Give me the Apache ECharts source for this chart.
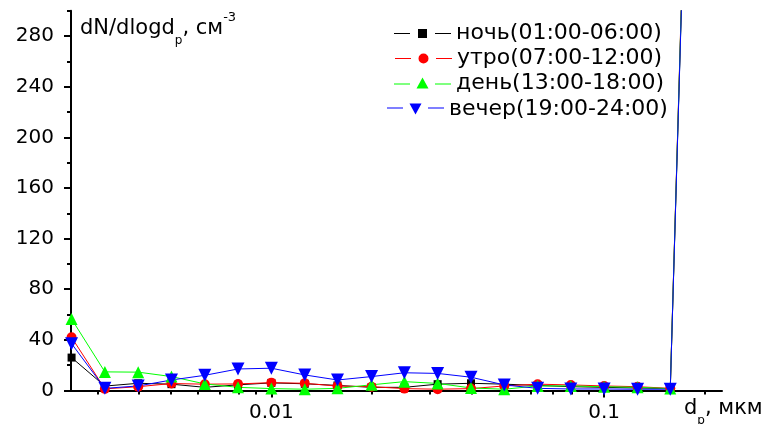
<!DOCTYPE html>
<html>
<head>
<meta charset="utf-8">
<title>dN/dlogdp</title>
<script src="https://cdn.jsdelivr.net/npm/echarts@6/dist/echarts.min.js"></script>
<style>
    html, body { margin: 0; padding: 0; background: #fff; }
    #main { width: 771px; height: 424px; }
</style>
</head>
<body>
<div id="main"></div>
<script>
// диаметр частиц, мкм
var diam = [0.00251, 0.00316, 0.00398, 0.00501, 0.00631, 0.00794, 0.01, 0.0126, 0.0158, 0.02,
    0.0251, 0.0316, 0.0398, 0.0501, 0.0631, 0.0794, 0.1, 0.126, 0.158, 0.2];
// dN/dlogdp по периодам суток
var night = [26, 3.5, 5.7, 5, 2.5, 4.5, 6, 5.3, 4, 2.5, 2.5, 5, 5.7, 5, 4, 3, 2.5, 2, 1.5, 925];
var morning = [42, 1.3, 3, 5.5, 5, 5.2, 6.2, 5.7, 3.5, 3, 1.5, 1, 1.5, 3.6, 5, 4.4, 3.6, 3, 1.7, 935];
var day = [56.5, 14.7, 14.5, 11, 5.2, 2.5, 1.5, 1, 1.7, 4.5, 7, 5.6, 2, 1, 3.6, 3.6, 3, 2.5, 1.5, 930];
var evening = [37, 1.7, 3.6, 8.3, 12, 17, 17.6, 12.3, 8.3, 11, 14, 13.5, 10.5, 4.4, 1.7, 1.2, 1.2, 1, 1, 920];
var names = ['ночь(01:00-06:00)', 'утро(07:00-12:00)', 'день(13:00-18:00)', 'вечер(19:00-24:00)'];
// подписи и деления осей
var yMajor = [0, 40, 80, 120, 160, 200, 240, 280];
var yMinor = [20, 60, 100, 140, 180, 220, 260, 300];
var xMajor = [0.01, 0.1];
var xMinor = [0.003, 0.004, 0.005, 0.006, 0.007, 0.008, 0.009,
    0.02, 0.03, 0.04, 0.05, 0.06, 0.07, 0.08, 0.09, 0.2];

(function() {
    var font = 'DejaVu Sans';
    var chart = echarts.init(document.getElementById('main'));

    function pairs(vals) {
        return diam.map(function(d, i) {
            return [d, vals[i]];
        });
    }

    function lineSeries(name, vals, color, symbol, size, rotate) {
        return {
            name: name,
            type: 'line',
            data: pairs(vals),
            symbol: symbol,
            symbolSize: size,
            symbolRotate: rotate || 0,
            itemStyle: { color: color },
            lineStyle: { color: color, width: 1 },
            animation: false
        };
    }

    // значки легенды: линия - символ - линия
    var icons = [
        'path://M0,4L16,4L16,5L0,5Z M24,0L33,0L33,9L24,9Z M41,4L57,4L57,5L41,5Z',
        'path://M0,4.5L16,4.5L16,5.5L0,5.5Z M23.5,5A5,5 0 1,0 33.5,5A5,5 0 1,0 23.5,5Z M41,4.5L57,4.5L57,5.5L41,5.5Z',
        'path://M0,6L16,6L16,7L0,7Z M22.5,11L28.5,0L34.5,11Z M41,6L57,6L57,7L41,7Z',
        'path://M0,4L16,4L16,5L0,5Z M22.5,0L34.5,0L28.5,11Z M41,4L57,4L57,5L41,5Z'
    ];
    var iconH = [9, 10, 11, 11];
    var legLeft = [394, 395, 394, 387];
    var legMid = [33.5, 58.5, 83, 109];

    var legends = names.map(function(n, i) {
        return {
            data: [{ name: n, icon: icons[i] }],
            left: legLeft[i],
            top: legMid[i] - 11,
            padding: 0,
            itemWidth: 57,
            itemHeight: iconH[i],
            selectedMode: false,
            textStyle: { fontFamily: font, fontSize: 22, color: '#000', lineHeight: 22 }
        };
    });

    var option = {
        backgroundColor: '#fff',
        animation: false,
        grid: { left: 71, right: 49, top: 10.7, bottom: 33.5, containLabel: false },
        legend: legends,
        xAxis: [{
            type: 'log',
            logBase: 10,
            min: 0.0025,
            max: 0.226,
            position: 'bottom',
            axisLine: { onZero: false, lineStyle: { color: '#000', width: 2 } },
            axisTick: { show: true, customValues: xMajor, length: 7, lineStyle: { color: '#000', width: 2 } },
            axisLabel: {
                customValues: xMajor,
                margin: 12,
                fontFamily: font,
                fontSize: 20,
                color: '#000',
                formatter: function(v) {
                    return String(v);
                }
            },
            splitLine: { show: false }
        }, {
            type: 'log',
            logBase: 10,
            min: 0.0025,
            max: 0.226,
            position: 'bottom',
            axisLine: { show: false, onZero: false },
            axisTick: { show: true, customValues: xMinor, length: 4, lineStyle: { color: '#000', width: 2 } },
            axisLabel: { show: false },
            splitLine: { show: false }
        }],
        yAxis: [{
            type: 'value',
            min: 0,
            max: 300,
            position: 'left',
            axisLine: { show: true, onZero: false, lineStyle: { color: '#000', width: 2 } },
            axisTick: { show: true, customValues: yMajor, length: 7, lineStyle: { color: '#000', width: 2 } },
            axisLabel: {
                customValues: yMajor,
                margin: 17,
                fontFamily: font,
                fontSize: 20,
                color: '#000'
            },
            splitLine: { show: false }
        }, {
            type: 'value',
            min: 0,
            max: 300,
            position: 'left',
            axisLine: { show: false, onZero: false },
            axisTick: { show: true, customValues: yMinor, length: 4, lineStyle: { color: '#000', width: 2 } },
            axisLabel: { show: false },
            splitLine: { show: false }
        }],
        graphic: [{
            type: 'text',
            x: 80,
            y: 29,
            style: {
                text: '{a|dN/dlogd}{b|p}{a|, см}{c|-3}',
                verticalAlign: 'middle',
                rich: {
                    a: { fontFamily: font, fontSize: 21, lineHeight: 36, fill: '#000' },
                    b: { fontFamily: font, fontSize: 12, lineHeight: 12, verticalAlign: 'bottom', fill: '#000' },
                    c: { fontFamily: font, fontSize: 13, lineHeight: 12, verticalAlign: 'top', fill: '#000' }
                }
            }
        }, {
            type: 'text',
            x: 684,
            y: 409,
            style: {
                text: '{a|d}{b|p}{a|, мкм}',
                verticalAlign: 'middle',
                rich: {
                    a: { fontFamily: font, fontSize: 21, lineHeight: 36, fill: '#000' },
                    b: { fontFamily: font, fontSize: 12, lineHeight: 12, verticalAlign: 'bottom', fill: '#000' }
                }
            }
        }],
        series: [
            lineSeries(names[0], night, '#000000', 'rect', 8),
            lineSeries(names[1], morning, '#ff0000', 'circle', 10),
            lineSeries(names[2], day, '#00ff00', 'triangle', 12),
            lineSeries(names[3], evening, '#0000ff', 'triangle', 13, 180)
        ]
    };
    chart.setOption(option);
})()
</script>
</body>
</html>
